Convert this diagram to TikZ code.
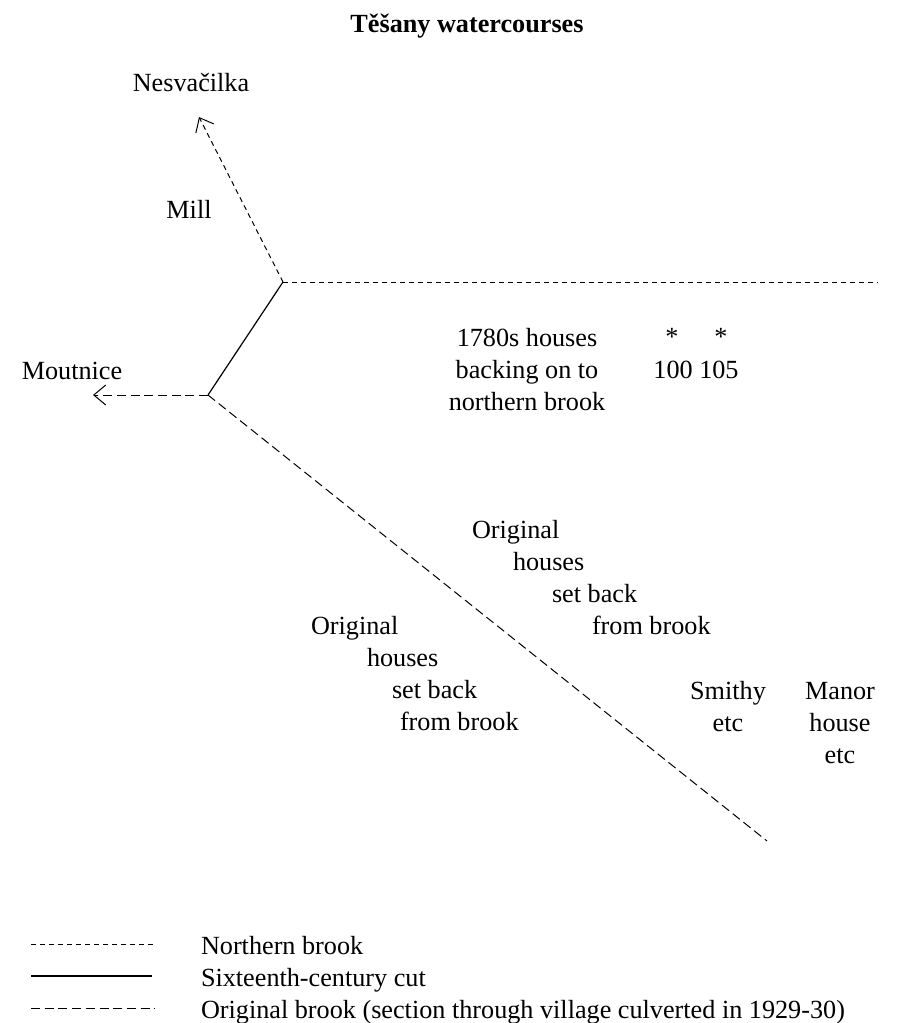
\documentclass[tikz,border=0pt]{standalone}
\usepackage{fontspec}
\setmainfont{Liberation Serif}
\usetikzlibrary{arrows.meta}
\tikzset{
  lbl/.style={inner sep=0pt,outer sep=0pt,anchor=base,font=\fontsize{26.2}{32}\selectfont},
  lbw/.style={lbl,anchor=base west},
  northern/.style={line width=1pt,dash pattern=on 5pt off 4pt},
  cut/.style={line width=1.2pt},
  original/.style={line width=1pt,dash pattern=on 9pt off 4.7pt},
  tip/.style={-{Straight Barb[length=12pt,width=20pt,line width=1pt]}}
}
\begin{document}
\begin{tikzpicture}[x=1pt,y=-1pt]
\useasboundingbox (0,0) rectangle (899,1023);
\node[lbl,font=\fontsize{26.2}{32}\selectfont\bfseries] (title) at (467,32) {Těšany watercourses};
\node[lbl] (nes) at (191,91) {Nesvačilka};
\node[lbl] (mill) at (189,218) {Mill};
\node[lbl] (mou) at (72,379) {Moutnice};
\node[lbl,align=center] (h1780) at (527,410) {1780s houses\\backing on to\\northern brook};
\node[lbl] (s1) at (672,345) {*};
\node[lbl] (s2) at (721,345) {*};
\node[lbl] (n100) at (696,378) {100 105};
\node[lbw] (a1) at (472,538) {Original};
\node[lbw] (a2) at (513,570) {houses};
\node[lbw] (a3) at (552,602) {set back};
\node[lbw] (a4) at (592,634) {from brook};
\node[lbw] (b1) at (311,634) {Original};
\node[lbw] (b2) at (367,666) {houses};
\node[lbw] (b3) at (392,698) {set back};
\node[lbw] (b4) at (400,730) {from brook};
\node[lbl,align=center] (smithy) at (728,731) {Smithy\\etc};
\node[lbl,align=center] (manor) at (840,763) {Manor\\house\\etc};
\coordinate (j1) at (283,282);
\coordinate (j2) at (208,395);
\coordinate (nesEnd) at (199,117);
\coordinate (eastEnd) at (878,282);
\coordinate (mouEnd) at (93,395);
\coordinate (southEnd) at (767,841);
\draw[northern,tip] (j1) -- (nesEnd);
\draw[northern] (j1) -- (eastEnd);
\draw[cut] (j1) -- (j2);
\draw[original,tip] (j2) -- (mouEnd);
\draw[original] (j2) -- (southEnd);
\coordinate (l1a) at (31,944); \coordinate (l1b) at (155,944);
\coordinate (l2a) at (31,976); \coordinate (l2b) at (152,976);
\coordinate (l3a) at (31,1008); \coordinate (l3b) at (155,1008);
\draw[northern] (l1a) -- (l1b);
\draw[cut] (l2a) -- (l2b);
\draw[original] (l3a) -- (l3b);
\node[lbw] (t1) at (201,954) {Northern brook};
\node[lbw] (t2) at (201,986) {Sixteenth-century cut};
\node[lbw] (t3) at (201,1018) {Original brook (section through village culverted in 1929-30)};
\end{tikzpicture}
\end{document}
